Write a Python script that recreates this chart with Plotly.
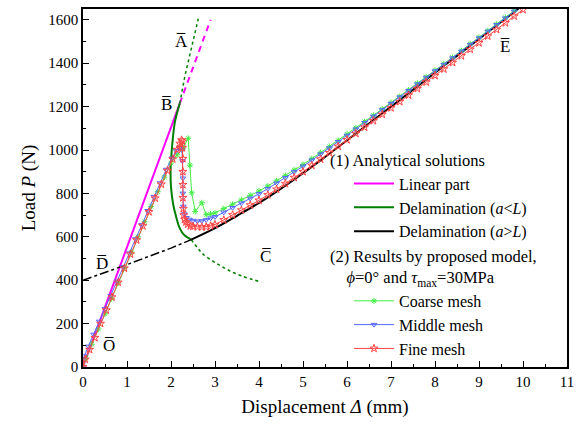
import plotly.graph_objects as go

# ---------------- data ----------------
# Analytical: linear part
lin_x = [0.0, 2.2]
lin_y = [0, 1215]
lin_ext_x = [2.2, 2.9]
lin_ext_y = [1215, 1600]

# Analytical: delamination a<L (solid stable branch)
aL_x = [2.2, 2.09, 2.04, 2.01, 1.99, 2.0, 2.05, 2.12, 2.2, 2.3, 2.46]
aL_y = [1215, 1131, 1050, 979, 900, 830, 749, 690, 639, 608, 587]
# dotted continuation (downwards) towards C
aL_dot_x = [2.46, 2.6, 2.73, 3.0, 3.27, 3.6, 4.06]
aL_dot_y = [587, 550, 520, 482, 450, 420, 391]
# dotted branch upwards towards A
aL_up_x = [2.2, 2.32, 2.47, 2.62]
aL_up_y = [1215, 1345, 1475, 1605]

# Analytical: delamination a>L
aG_dash_x = [0.0, 0.5, 1.0, 1.5, 2.0, 2.46]
aG_dash_y = [400, 435, 472, 510, 548, 587]
aG_x = [2.46, 3.0, 3.5, 4.0, 4.5, 5.0, 5.5, 6.0, 6.5, 7.0, 7.5, 8.0, 8.5, 9.0, 9.5, 9.9]
aG_y = [587, 640, 697, 756, 822, 893, 968, 1045, 1122, 1200, 1278, 1356, 1434, 1512, 1590, 1652]

post_x = [3.0, 3.2, 3.4, 3.6, 3.8, 4.0, 4.2, 4.4, 4.6, 4.8, 5.0, 5.2, 5.4, 5.6, 5.8,
          6.0, 6.2, 6.4, 6.6, 6.8, 7.0, 7.2, 7.4, 7.6, 7.8, 8.0, 8.2, 8.4, 8.6, 8.8,
          9.0, 9.2, 9.4, 9.6, 9.8]

# Coarse mesh
coarse_x = [0, 0.07, 0.2, 0.35, 0.5, 0.65, 0.8, 0.95, 1.1, 1.25, 1.4, 1.55, 1.7, 1.85,
            2.0, 2.14, 2.28, 2.39, 2.43, 2.47, 2.55, 2.7, 2.8, 2.9] + post_x
coarse_y = [0, 40, 105, 175, 245, 315, 388, 458, 530, 600, 670, 740, 808, 875,
            940, 978, 1010, 1054, 930, 803, 717, 757, 702, 705,
            710, 730, 750, 770, 791, 811, 834, 858, 882, 908, 933, 960, 988, 1016, 1044,
            1073, 1102, 1131, 1160, 1189, 1218, 1247, 1277, 1308, 1337, 1367, 1397, 1427,
            1458, 1489, 1519, 1550, 1580, 1611, 1642]

# Middle mesh
middle_x = [0, 0.03, 0.12, 0.24, 0.37, 0.5, 0.63, 0.77, 0.91, 1.05, 1.19, 1.33, 1.47,
            1.61, 1.75, 1.89, 2.02, 2.12, 2.19, 2.25, 2.26, 2.27, 2.27, 2.28, 2.3, 2.35,
            2.42, 2.5, 2.6, 2.7, 2.8, 2.9] + post_x
middle_y = [0, 50, 95, 150, 210, 268, 328, 395, 460, 525, 590, 655, 720,
            785, 848, 910, 962, 996, 1010, 1000, 950, 870, 800, 740, 705, 688,
            680, 675, 672, 673, 678, 686,
            692, 713, 734, 755, 777, 798, 822, 847, 872, 899, 925, 953, 981, 1009, 1038,
            1067, 1096, 1126, 1155, 1185, 1214, 1244, 1273, 1304, 1334, 1364, 1394, 1424,
            1455, 1486, 1516, 1547, 1577, 1608, 1639]

# Fine mesh
fine_x = [0, 0.05, 0.15, 0.27, 0.4, 0.53, 0.66, 0.8, 0.94, 1.08, 1.22, 1.36, 1.5, 1.64,
          1.78, 1.92, 2.04, 2.14, 2.2, 2.24, 2.26, 2.26, 2.27, 2.27, 2.27, 2.27, 2.28,
          2.29, 2.31, 2.34, 2.38, 2.44, 2.5, 2.6, 2.7, 2.8, 2.9] + post_x + [10.0]
fine_y = [0, 35, 80, 135, 200, 262, 322, 390, 455, 520, 585, 650, 715, 778,
          842, 905, 958, 1002, 1030, 1046, 1040, 1010, 960, 900, 840, 780, 730,
          700, 680, 668, 658, 650, 648, 646, 645, 646, 650,
          656, 678, 701, 723, 746, 768, 793, 819, 845, 873, 900, 929, 958, 987, 1017,
          1047, 1076, 1105, 1135, 1164, 1194, 1223, 1253, 1283, 1313, 1343, 1373, 1403,
          1434, 1464, 1494, 1525, 1555, 1586, 1617, 1647]

point_labels = ["O", "A", "B", "C", "D", "E"]
point_x = [0.59, 2.23, 1.89, 4.16, 0.43, 9.59]
point_y = [97, 1499, 1209, 510, 478, 1476]

# ---------------- figure ----------------
FONT = "Liberation Serif, Times New Roman, serif"
MAG = "#ff00ff"
DGREEN = "#008000"

fig = go.Figure()

g1 = "(1) Analytical solutions"
g2 = "(2) Results by proposed model,<br>    <i>ϕ</i>=0° and <i>τ</i><sub>max</sub>=30MPa"

fig.add_trace(go.Scatter(x=lin_x, y=lin_y, mode="lines", name="Linear part",
                         line=dict(color=MAG, width=2), legendgroup="g1",
                         legendgrouptitle_text=g1))
fig.add_trace(go.Scatter(x=lin_ext_x, y=lin_ext_y, mode="lines", showlegend=False,
                         line=dict(color=MAG, width=2, dash="6px,5px"), legendgroup="g1"))
fig.add_trace(go.Scatter(x=aL_x, y=aL_y, mode="lines", name="Delamination (<i>a</i><<i>L</i>)",
                         line=dict(color=DGREEN, width=2, shape="spline"), legendgroup="g1"))
fig.add_trace(go.Scatter(x=aL_dot_x, y=aL_dot_y, mode="lines", showlegend=False,
                         line=dict(color=DGREEN, width=1.5, dash="dot", shape="spline"),
                         legendgroup="g1"))
fig.add_trace(go.Scatter(x=aL_up_x, y=aL_up_y, mode="lines", showlegend=False,
                         line=dict(color=DGREEN, width=1.5, dash="dot"), legendgroup="g1"))
fig.add_trace(go.Scatter(x=aG_x, y=aG_y, mode="lines", name="Delamination (<i>a</i>><i>L</i>)",
                         line=dict(color="black", width=2, shape="spline"), legendgroup="g1"))
fig.add_trace(go.Scatter(x=aG_dash_x, y=aG_dash_y, mode="lines", showlegend=False,
                         line=dict(color="black", width=1.5, dash="dashdot"), legendgroup="g1"))

fig.add_trace(go.Scatter(x=coarse_x, y=coarse_y, mode="lines+markers", name="Coarse mesh",
                         line=dict(color="#44ee44", width=1),
                         marker=dict(symbol="asterisk-open", size=5,
                                     line=dict(color="#44ee44", width=1)),
                         legendgroup="g2", legendgrouptitle_text=g2))
fig.add_trace(go.Scatter(x=middle_x, y=middle_y, mode="lines+markers", name="Middle mesh",
                         line=dict(color="#5566ff", width=1),
                         marker=dict(symbol="triangle-down-open", size=5,
                                     line=dict(color="#5566ff", width=1)),
                         legendgroup="g2"))
fig.add_trace(go.Scatter(x=fine_x, y=fine_y, mode="lines+markers", name="Fine mesh",
                         line=dict(color="#ff4444", width=1),
                         marker=dict(symbol="star-open", size=6,
                                     line=dict(color="#ff4444", width=1)),
                         legendgroup="g2"))

for lab, px, py in zip(point_labels, point_x, point_y):
    fig.add_annotation(x=px, y=py, text=lab + "\u0305", showarrow=False,
                       font=dict(family=FONT, size=17, color="black"))

axis_common = dict(showline=True, linecolor="black", linewidth=1.5, mirror=True,
                   ticks="inside", ticklen=6, tickwidth=1, tickcolor="black",
                   showgrid=False, zeroline=False,
                   tickfont=dict(family=FONT, size=15, color="black"))

fig.update_xaxes(range=[0, 11], dtick=1, tick0=0,
                 minor=dict(ticks="inside", ticklen=3, dtick=0.5, tickcolor="black"),
                 title=dict(text="Displacement <i>Δ</i> (mm)",
                            font=dict(family=FONT, size=19, color="black"), standoff=11),
                 **axis_common)
fig.update_yaxes(range=[0, 1650], dtick=200, tick0=0,
                 minor=dict(ticks="inside", ticklen=3, dtick=100, tickcolor="black"),
                 title=dict(text="Load <i>P</i> (N)",
                            font=dict(family=FONT, size=19, color="black"), standoff=8),
                 **axis_common)

fig.update_layout(
    width=584, height=425,
    margin=dict(l=83, r=17, t=7, b=58),
    paper_bgcolor="white", plot_bgcolor="white",
    font=dict(family=FONT, size=17, color="black"),
    showlegend=True,
    legend=dict(x=0.5, y=0.628, xanchor="left", yanchor="top",
                bgcolor="rgba(0,0,0,0)", borderwidth=0, indentation=24,
                font=dict(family=FONT, size=16, color="black"),
                grouptitlefont=dict(family=FONT, size=16.5, color="black"),
                traceorder="grouped", tracegroupgap=0, itemwidth=40),
)

fig.write_html("out.html")
